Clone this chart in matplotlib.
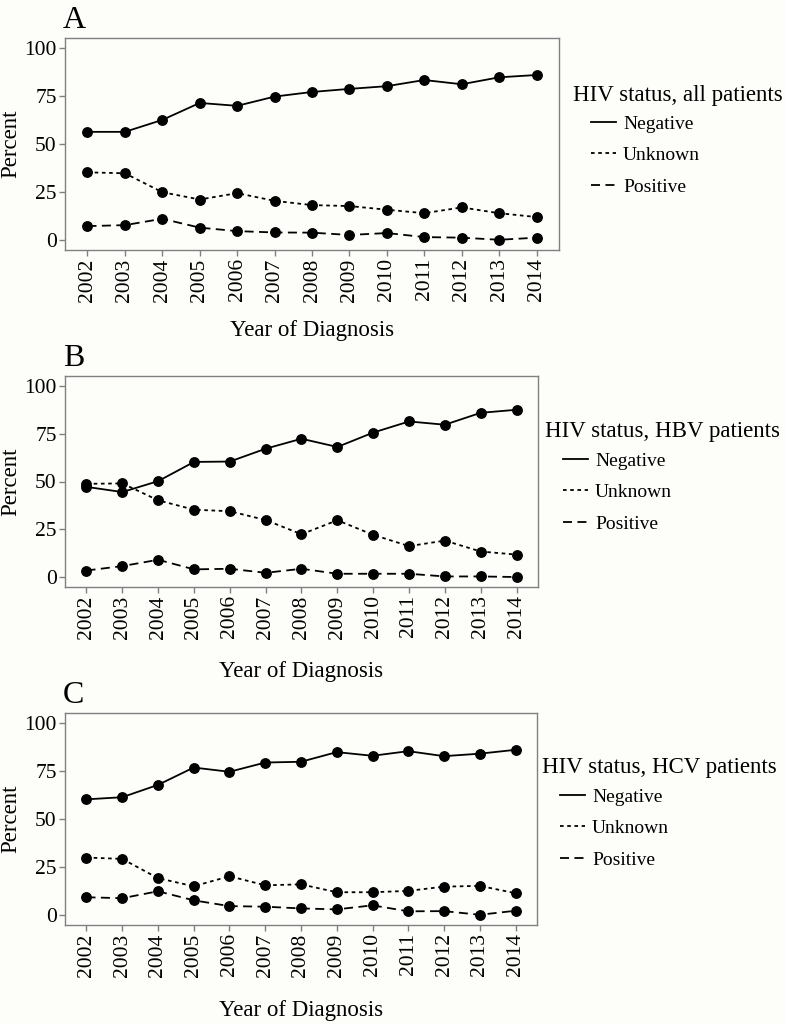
import matplotlib
matplotlib.use("Agg")
import matplotlib.pyplot as plt
from matplotlib.lines import Line2D

plt.rcParams['font.family'] = ['Liberation Serif', 'DejaVu Serif']

years = list(range(2002, 2015))
statuses = ["Negative", "Unknown", "Positive"]

# panel A: all patients
all_negative = [56.3, 56.3, 62.5, 71.3, 69.8, 74.6, 77.0, 78.6, 80.0, 83.2, 81.0, 84.6, 85.8]
all_unknown = [35.3, 34.8, 25.0, 21.2, 24.5, 20.5, 18.3, 17.8, 15.9, 14.1, 17.1, 14.1, 12.1]
all_positive = [7.4, 7.9, 11.2, 6.6, 4.8, 4.1, 4.0, 2.8, 3.8, 1.7, 1.4, 0.3, 1.4]

# panel B: HBV patients
hbv_negative = [47.2, 44.5, 50.2, 60.2, 60.4, 67.1, 72.3, 68.0, 75.5, 81.3, 79.6, 85.8, 87.4]
hbv_unknown = [48.8, 49.0, 40.2, 35.3, 34.5, 29.9, 22.5, 29.8, 22.2, 16.3, 19.2, 13.5, 11.9]
hbv_positive = [3.6, 5.9, 9.2, 4.2, 4.5, 2.4, 4.5, 1.9, 1.9, 1.9, 0.5, 0.5, 0.2]

# panel C: HCV patients
hcv_negative = [60.2, 61.3, 67.7, 76.7, 74.5, 79.3, 79.7, 84.7, 82.8, 85.2, 82.6, 83.9, 85.9]
hcv_unknown = [30.0, 29.3, 19.3, 15.1, 20.3, 15.6, 16.1, 12.0, 12.0, 12.7, 14.9, 15.3, 11.5]
hcv_positive = [9.4, 8.9, 12.5, 7.8, 4.8, 4.5, 3.6, 3.1, 5.2, 2.1, 2.2, 0.3, 2.4]

panels = [
    ("A", "HIV status, all patients", [all_negative, all_unknown, all_positive]),
    ("B", "HIV status, HBV patients", [hbv_negative, hbv_unknown, hbv_positive]),
    ("C", "HIV status, HCV patients", [hcv_negative, hcv_unknown, hcv_positive]),
]

W, H = 786, 1024
# axes boxes in pixels: left, right, top, bottom
boxes = [(65, 559, 38, 250), (65, 538, 376, 587), (65, 537, 713, 925)]
# legend title position (x, y center) in pixels
leg_pos = [(573, 95), (545, 432), (542, 768)]
# gap between axes bottom and x label top, pixels
xlab_gap = [70, 74, 75]

dashes = [None, (2, 2), (5, 3)]
gray = "#808080"
bg = "#fdfdfa"

fig = plt.figure(figsize=(W / 100, H / 100), dpi=100, facecolor=bg)

for (tag, title, series), (l, r, t, b), (lx, ly), gap in zip(panels, boxes, leg_pos, xlab_gap):
    ax = fig.add_axes([l / W, 1 - b / H, (r - l) / W, (b - t) / H])
    ax.set_facecolor(bg)
    handles = []
    for vals, d in zip(series, dashes):
        line, = ax.plot(years, vals, color="black", lw=1.3, marker="o", ms=6.8)
        h = Line2D([], [], color="black", lw=1.3)
        if d is not None:
            line.set_dashes(d)
            h.set_dashes(d)
        handles.append(h)
    ax.set_xlim(2001.4, 2014.6)
    ax.set_ylim(-5, 105)
    ax.set_xticks(years)
    ax.set_xticklabels([str(y) for y in years], rotation=90)
    ax.set_yticks([0, 25, 50, 75, 100])
    for s in ax.spines.values():
        s.set_color(gray)
        s.set_linewidth(1.0)
    ax.tick_params(colors=gray, labelcolor="black", labelsize=15.5, length=4, width=1, pad=2)
    ax.set_xlabel("Year of Diagnosis", fontsize=16.5)
    ax.xaxis.set_label_coords(0.5, -gap / (b - t))
    ax.set_ylabel("Percent", fontsize=16.5)
    ax.yaxis.set_label_coords(-(65 - 21) / (r - l), 0.5)

    fig.text(63 / W, 1 - (t - 10) / H, tag, fontsize=23, va="baseline", ha="left")
    fig.text(lx / W, 1 - ly / H, title, fontsize=16.5, va="center", ha="left")
    fig.legend(handles, statuses, loc="upper left",
               bbox_to_anchor=((lx + 18) / W, 1 - (ly + 20) / H),
               frameon=False, fontsize=14, handlelength=1.3, handletextpad=0.35,
               labelspacing=0.72, borderpad=0, borderaxespad=0)

fig.savefig("out.png", dpi=100, facecolor=bg)
